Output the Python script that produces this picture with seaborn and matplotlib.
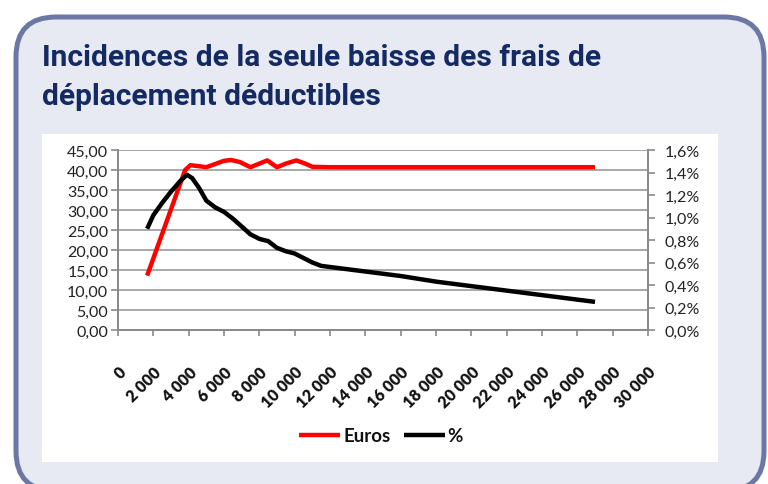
import matplotlib
matplotlib.use("Agg")
import matplotlib.pyplot as plt
import seaborn as sns
import pandas as pd
from matplotlib.patches import FancyBboxPatch, Rectangle
from matplotlib.ticker import FixedLocator, FuncFormatter

# ---- data ----
euros_x = [1650, 3800, 4100, 4500, 5000, 5500, 6000, 6400, 6900, 7500, 8000, 8450,
           9000, 9500, 10100, 10600, 11000, 12000, 27000]
euros_y = [13.6, 40.0, 41.2, 41.0, 40.7, 41.5, 42.3, 42.5, 42.0, 40.7, 41.6, 42.4,
           40.7, 41.6, 42.4, 41.6, 40.8, 40.7, 40.7]

pct_x = [1650, 2000, 2500, 3000, 3500, 3900, 4200, 4600, 5000, 5500, 6000, 6500,
         7000, 7500, 8000, 8500, 9000, 9500, 10000, 10500, 11000, 11500, 12000,
         14000, 16000, 18000, 20000, 22000, 24000, 26000, 27000]
pct_y = [0.90, 1.02, 1.13, 1.23, 1.32, 1.38, 1.35, 1.26, 1.15, 1.09, 1.05, 0.99,
         0.92, 0.85, 0.81, 0.79, 0.73, 0.70, 0.68, 0.64, 0.60, 0.57, 0.56,
         0.52, 0.48, 0.43, 0.39, 0.35, 0.31, 0.27, 0.25]

x_ticks = list(range(0, 30001, 2000))
left_ticks = [0, 5, 10, 15, 20, 25, 30, 35, 40, 45]
right_ticks = [0.0, 0.2, 0.4, 0.6, 0.8, 1.0, 1.2, 1.4, 1.6]

title_lines = ["Incidences de la seule baisse des frais de", "déplacement déductibles"]
series_names = ["Euros", "%"]

# ---- figure ----
sns.set_theme(style="white")
plt.rcParams['font.family'] = ['Lato', 'DejaVu Sans']

W, H = 768, 485
fig = plt.figure(figsize=(W / 100, H / 100), dpi=100)
fig.patch.set_facecolor("white")

# rounded panel (pixel coordinates, origin bottom-left)
panel = FancyBboxPatch((16, H - 492), 748, 474,
                       boxstyle="round,pad=0,rounding_size=40",
                       transform=None, facecolor="#e8eaf3", edgecolor="#6b78a6",
                       linewidth=3.6, zorder=0)
fig.patches.append(panel)
white = Rectangle((42, H - 463), 676, 328, transform=None,
                  facecolor="white", edgecolor="none", zorder=1)
fig.patches.append(white)

fig.text(42 / W, 1 - 58 / H, title_lines[0], fontsize=21.5, fontweight="bold",
         color="#142a63", family="Roboto", va="center", ha="left")
fig.text(42 / W, 1 - 97 / H, title_lines[1], fontsize=21.5, fontweight="bold",
         color="#142a63", family="Roboto", va="center", ha="left")

ax = fig.add_axes([118 / W, 1 - 331 / H, (648 - 118) / W, (331 - 151) / H])
ax.set_facecolor("none")
ax.set_zorder(3)
ax2 = ax.twinx()

df_e = pd.DataFrame({"x": euros_x, "y": euros_y})
df_p = pd.DataFrame({"x": pct_x, "y": pct_y})

sns.lineplot(data=df_e, x="x", y="y", ax=ax, color="#ff0000", linewidth=3.2,
             sort=False, label=series_names[0], legend=False)
sns.lineplot(data=df_p, x="x", y="y", ax=ax2, color="#000000", linewidth=3.2,
             sort=False, label=series_names[1], legend=False)
for a in (ax, ax2):
    for ln in a.get_lines():
        ln.set_solid_joinstyle("round")
        ln.set_solid_capstyle("butt")

ax.set_xlim(0, 30000)
ax.set_ylim(0, 45)
ax2.set_ylim(0, 1.6)
ax.set_xlabel("")
ax.set_ylabel("")
ax2.set_ylabel("")

grid_c = "#a8a8a8"
spine_c = "#8a8a8a"
ax.yaxis.set_major_locator(FixedLocator(left_ticks))
ax.yaxis.grid(True, color=grid_c, linewidth=1.4)
ax.xaxis.grid(False)
ax2.grid(False)
ax.set_axisbelow(True)

ax.xaxis.set_major_locator(FixedLocator(x_ticks))
ax.xaxis.set_major_formatter(FuncFormatter(lambda v, p: f"{int(v):,}".replace(",", " ")))
ax.yaxis.set_major_formatter(FuncFormatter(lambda v, p: f"{v:.2f}".replace(".", ",")))
ax2.yaxis.set_major_locator(FixedLocator(right_ticks))
ax2.yaxis.set_major_formatter(FuncFormatter(lambda v, p: f"{v:.1f}%".replace(".", ",")))

for s in ["top"]:
    ax.spines[s].set_visible(False)
    ax2.spines[s].set_visible(False)
for s in ["left", "bottom", "right"]:
    ax2.spines[s].set_color(spine_c)
    ax2.spines[s].set_linewidth(1.4)
    ax.spines[s].set_color(spine_c)
    ax.spines[s].set_linewidth(1.4)

ax.tick_params(axis="y", which="major", direction="out", length=5, width=1.2,
               color=spine_c, labelsize=11.5, labelcolor="#222222", pad=2, left=True)
ax2.tick_params(axis="y", which="major", direction="out", length=5, width=1.2,
                color=spine_c, labelsize=11.5, labelcolor="#222222", pad=7, right=True)
ax.tick_params(axis="x", which="major", direction="out", length=4, width=1.2,
               color=spine_c, labelsize=11.5, labelcolor="#111111", pad=20, bottom=True)
for lab in ax.get_xticklabels():
    lab.set_rotation(45)
    lab.set_ha("right")
    lab.set_va("top")
    lab.set_rotation_mode("anchor")
    lab.set_fontweight("heavy")

handles = ax.get_lines() + ax2.get_lines()
leg = fig.legend(handles, series_names, loc="center",
                 bbox_to_anchor=(381 / W, 1 - 437 / H), ncol=2, frameon=False,
                 handlelength=2.2, handletextpad=0.15, columnspacing=0.7,
                 prop={"family": "Lato", "weight": "bold", "size": 13.5})
for t in leg.get_texts():
    t.set_color("#111111")

fig.savefig("out.png", dpi=100, facecolor="white")
